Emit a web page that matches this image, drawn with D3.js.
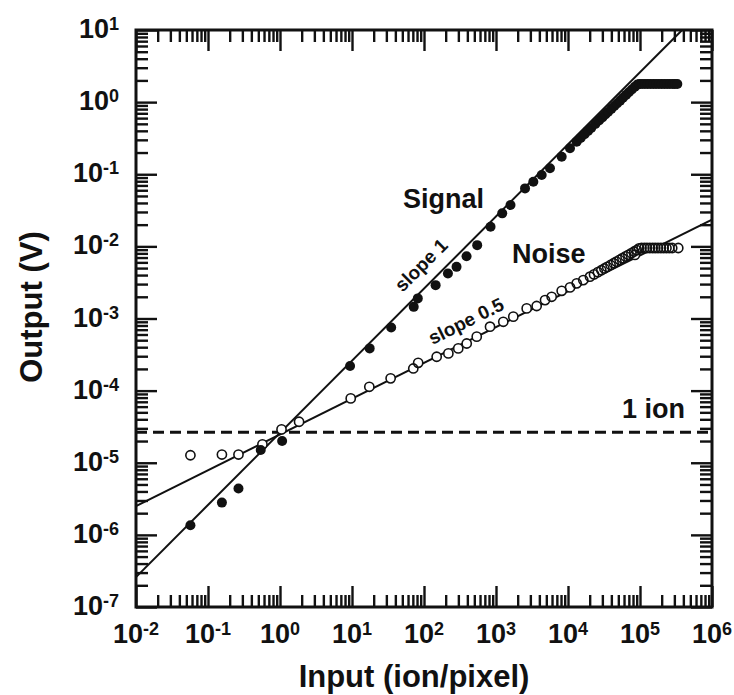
<!DOCTYPE html>
<html>
<head>
<meta charset="utf-8">
<script src="https://cdn.jsdelivr.net/npm/d3@7"></script>
<style>
body { margin: 0; background: #fff; }
text { font-family: "Liberation Sans", Arial, Helvetica, sans-serif; font-weight: bold; fill: #111; }
</style>
</head>
<body>
<svg class="chartsvg" width="734" height="695"></svg>
<script>
// values: [input (ion/pixel), output (V)]
var signalPoints = [
  [0.057,1.36e-6],[0.156,2.8e-6],[0.265,4.4e-6],[0.54,1.5e-5],[1.07,2.0e-5],
  [9.4,2.2e-4],[17.6,3.85e-4],[35,7.5e-4],[72,1.45e-3],[82,1.9e-3],[145,2.9e-3],
  [215,4.2e-3],[283,5.2e-3],[390,7.3e-3],[548,1.04e-2],[840,1.87e-2],[1220,2.87e-2],
  [1590,3.74e-2],[2530,6.37e-2],[3300,7.87e-2],[4310,9.75e-2],[5620,0.121],[8170,0.175],
  [10660,0.229],[13200,0.283],[15000,0.319],[17000,0.359],[19000,0.399],[21000,0.439],
  [24000,0.497],[27000,0.556],[30000,0.614],[33000,0.672],[36000,0.73],[40000,0.807],
  [44000,0.882],[48000,0.957],[53000,1.05],[58000,1.15],[64000,1.26],[70000,1.37],
  [77000,1.5],[85000,1.64],[92000,1.75],[98000,1.78],[107000,1.79],[117000,1.78],
  [128000,1.78],[140000,1.79],[153000,1.78],[167000,1.78],[183000,1.79],[200000,1.78],
  [218000,1.78],[238000,1.79],[260000,1.78],[285000,1.78],[305000,1.78],[330000,1.78]
];
var noisePoints = [
  [0.057,1.27e-5],[0.156,1.3e-5],[0.265,1.3e-5],[0.57,1.8e-5],[1.05,2.9e-5],[1.84,3.7e-5],
  [9.6,7.8e-5],[17.4,1.13e-4],[34.4,1.48e-4],[71,2.03e-4],[83,2.43e-4],[150,2.95e-4],
  [218,3.28e-4],[299,3.85e-4],[392,4.5e-4],[540,5.6e-4],[826,7.7e-4],[1262,9.0e-4],
  [1738,1.06e-3],[2668,1.38e-3],[3670,1.49e-3],[4800,1.8e-3],[5930,2.0e-3],[8170,2.42e-3],
  [10670,2.7e-3],[13200,3.07e-3],[16300,3.41e-3],[20200,3.8e-3],[23000,4.09e-3],
  [26000,4.39e-3],[29000,4.67e-3],[32000,4.94e-3],[35000,5.19e-3],[39000,5.52e-3],
  [43000,5.84e-3],[47000,6.14e-3],[52000,6.5e-3],[57000,6.86e-3],[63000,7.26e-3],
  [69000,7.64e-3],[76000,8.07e-3],[83000,8.49e-3],[85000,7.6e-3],[90000,8.88e-3],
  [97000,9.4e-3],[105000,9.5e-3],[115000,9.5e-3],[125000,9.5e-3],[137000,9.5e-3],
  [150000,9.5e-3],[163000,9.5e-3],[178000,9.5e-3],[195000,9.5e-3],[213000,9.5e-3],
  [233000,9.5e-3],[255000,9.5e-3],[280000,9.5e-3],[340000,9.5e-3]
];
// fitted lines (end points) and the 1 ion level
var signalFit = [[0.01, 2.6e-7], [3.85e5, 10]];
var noiseFit = [[0.01, 2.5e-6], [1e6, 2.35e-2]];
var oneIon = 2.65e-5;
// decade exponents for tick labels
var xDecades = [-2, -1, 0, 1, 2, 3, 4, 5, 6];
var yDecades = [-7, -6, -5, -4, -3, -2, -1, 0, 1];

var margin = {top: 30, right: 22, bottom: 88, left: 136};
var width = 734, height = 695;

var svg = d3.select(".chartsvg");

var x = d3.scaleLog().domain([1e-2, 1e6]).range([margin.left, width - margin.right]);
var y = d3.scaleLog().domain([1e-7, 1e1]).range([height - margin.bottom, margin.top]);

function minorvals(decades)
{
	var v = [];
	for (var i = 0; i < decades.length - 1; i++)
		for (var k = 2; k <= 9; k++)
			v.push(k * Math.pow(10, decades[i]));
	return v;
}
var xMajor = xDecades.map(function(d) { return Math.pow(10, d); });
var yMajor = yDecades.map(function(d) { return Math.pow(10, d); });
var xMinor = minorvals(xDecades);
var yMinor = minorvals(yDecades);

var pBottom = y.range()[0], pTop = y.range()[1], pLeft = x.range()[0], pRight = x.range()[1];

svg.append("defs").append("clipPath").attr("id", "plotclip")
   .append("rect")
   .attr("x", pLeft).attr("y", pTop)
   .attr("width", pRight - pLeft)
   .attr("height", pBottom - pTop);

// ticks, all pointing inward
function addticks(axis, tx, ty)
{
	var g = svg.append("g")
	    .attr("class", "ticks")
	    .attr("transform", "translate(" + tx + "," + ty + ")")
	    .call(axis);
	g.select(".domain").remove();
	g.selectAll("line").attr("stroke", "#111").attr("stroke-width", 2.4);
	g.selectAll("text").remove();
}
addticks(d3.axisBottom(x).tickValues(xMajor).tickSize(-21), 0, pBottom);
addticks(d3.axisBottom(x).tickValues(xMinor).tickSize(-12), 0, pBottom);
addticks(d3.axisTop(x).tickValues(xMajor).tickSize(-21), 0, pTop);
addticks(d3.axisTop(x).tickValues(xMinor).tickSize(-12), 0, pTop);
addticks(d3.axisLeft(y).tickValues(yMajor).tickSize(-21), pLeft, 0);
addticks(d3.axisLeft(y).tickValues(yMinor).tickSize(-12), pLeft, 0);
addticks(d3.axisRight(y).tickValues(yMajor).tickSize(-21), pRight, 0);
addticks(d3.axisRight(y).tickValues(yMinor).tickSize(-12), pRight, 0);

// frame
svg.append("rect")
   .attr("x", pLeft).attr("y", pTop)
   .attr("width", pRight - pLeft).attr("height", pBottom - pTop)
   .attr("fill", "none").attr("stroke", "#111").attr("stroke-width", 3);

// tick labels 10^n
var xlab = svg.append("g").attr("class", "xticklabels")
   .selectAll("text").data(xDecades).enter()
   .append("text")
	.attr("x", function(d) { return x(Math.pow(10, d)); })
	.attr("y", 643)
	.style("text-anchor", "middle")
	.style("font-size", "27px")
	.text("10");
xlab.append("tspan").attr("dy", -8).style("font-size", "18px").text(function(d) { return d; });

var ylab = svg.append("g").attr("class", "yticklabels")
   .selectAll("text").data(yDecades).enter()
   .append("text")
	.attr("x", 119)
	.attr("y", function(d) { return y(Math.pow(10, d)) + 8; })
	.style("text-anchor", "end")
	.style("font-size", "27px")
	.text("10");
ylab.append("tspan").attr("dy", -8).style("font-size", "18px").text(function(d) { return d; });

// axis titles
svg.append("text")
   .attr("x", 414).attr("y", 687)
   .style("text-anchor", "middle").style("font-size", "31px")
   .text("Input (ion/pixel)");
svg.append("text")
   .attr("transform", "translate(42,307) rotate(-90)")
   .style("text-anchor", "middle").style("font-size", "31px")
   .text("Output (V)");

var plot = svg.append("g").attr("clip-path", "url(#plotclip)");
var line = d3.line()
    .x(function(d) { return x(d[0]); })
    .y(function(d) { return y(d[1]); });

plot.append("path").datum(signalFit).attr("d", line)
    .attr("fill", "none").attr("stroke", "#111").attr("stroke-width", 2);
plot.append("path").datum(noiseFit).attr("d", line)
    .attr("fill", "none").attr("stroke", "#111").attr("stroke-width", 2);

plot.append("line")
    .attr("x1", pLeft).attr("x2", pRight)
    .attr("y1", y(oneIon)).attr("y2", y(oneIon))
    .attr("stroke", "#111").attr("stroke-width", 3)
    .attr("stroke-dasharray", "11,6");

// noise: open circles (fills first, then the rings)
plot.append("g").selectAll("circle").data(noisePoints).enter()
    .append("circle")
    .attr("cx", function(d) { return x(d[0]); })
    .attr("cy", function(d) { return y(d[1]); })
    .attr("r", 4.6).attr("fill", "#fff");
plot.append("g").selectAll("circle").data(noisePoints).enter()
    .append("circle")
    .attr("cx", function(d) { return x(d[0]); })
    .attr("cy", function(d) { return y(d[1]); })
    .attr("r", 4.6).attr("fill", "none")
    .attr("stroke", "#111").attr("stroke-width", 1.6);

// signal: filled circles
plot.append("g").selectAll("circle").data(signalPoints).enter()
    .append("circle")
    .attr("cx", function(d) { return x(d[0]); })
    .attr("cy", function(d) { return y(d[1]); })
    .attr("r", 5).attr("fill", "#111");

// annotations
svg.append("text").attr("x", 403).attr("y", 208).style("font-size", "27px").text("Signal");
svg.append("text").attr("x", 512).attr("y", 263).style("font-size", "27px").text("Noise");
svg.append("text").attr("x", 622).attr("y", 418).style("font-size", "27px").text("1 ion");
svg.append("text")
   .attr("transform", "translate(421,265) rotate(-45)")
   .attr("dy", ".35em")
   .style("text-anchor", "middle").style("font-size", "19px")
   .text("slope 1");
svg.append("text")
   .attr("transform", "translate(466,321) rotate(-26.5)")
   .attr("dy", ".35em")
   .style("text-anchor", "middle").style("font-size", "19px")
   .text("slope 0.5");
</script>
</body>
</html>
